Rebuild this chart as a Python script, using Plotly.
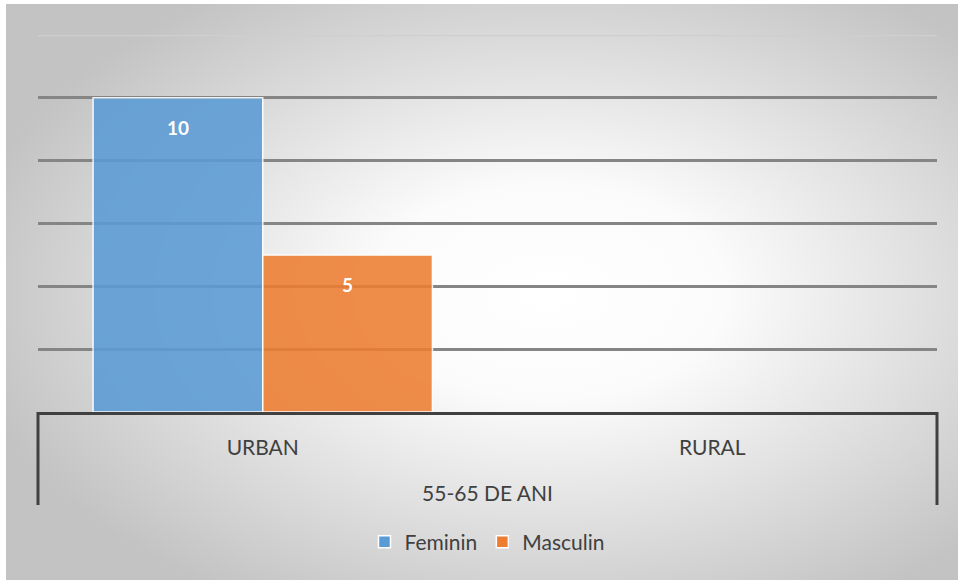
import base64
import plotly.graph_objects as go

# ---- data ----
group_label = "55-65 DE ANI"
categories = ["URBAN", "RURAL"]
feminin = [10, None]
masculin = [5, None]
series_names = ["Feminin", "Masculin"]
y_ticks = [0, 2, 4, 6, 8, 10, 12]

W, H = 958, 580
L, R, T, B = 38, 21, 35, 168
pw, ph = W - L - R, H - T - B

font_family = "Lato, 'Open Sans', sans-serif"
text_color = "#404040"
axis_color = "#404040"

label_tpl = "&nbsp;<br><span style='font-size:19px'>%{y}</span>"

fig = go.Figure()
for name, vals, color in [(series_names[0], feminin, "#5B9BD5"),
                          (series_names[1], masculin, "#ED7D31")]:
    fig.add_trace(go.Bar(
        name=name, x=categories, y=vals,
        marker=dict(color=color, opacity=0.88, line=dict(color="white", width=1.5)),
        texttemplate=label_tpl, textposition="inside", insidetextanchor="end",
        textfont=dict(color="white", size=15, family=font_family, weight="bold"),
        hoverinfo="skip",
    ))

# radial gradient background (chart area style)
svg = f'''<svg xmlns="http://www.w3.org/2000/svg" width="{W-6}" height="{H-4}" viewBox="0 0 {W-6} {H-4}" preserveAspectRatio="none">
<defs><radialGradient id="g" cx="0.57" cy="0.5" r="0.62" fx="0.57" fy="0.5">
<stop offset="0" stop-color="#ffffff"/><stop offset="0.3" stop-color="#fbfbfb"/>
<stop offset="1" stop-color="#c3c3c3"/></radialGradient></defs>
<rect width="100%" height="100%" fill="url(#g)"/></svg>'''
src = "data:image/svg+xml;base64," + base64.b64encode(svg.encode()).decode()

fig.add_layout_image(dict(
    source=src, xref="paper", yref="paper",
    x=(6 - L) / pw, y=1 + (T - 4) / ph,
    sizex=(W - 6) / pw, sizey=(H - 4) / ph,
    xanchor="left", yanchor="top", sizing="stretch", layer="below",
))

# top gridline (lighter)
fig.add_shape(type="line", xref="x domain", yref="y", x0=0, x1=1,
              y0=y_ticks[-1], y1=y_ticks[-1],
              line=dict(color="#cfcfcf", width=2.5), layer="below")

# multi-level category box sides
depth = 93 / ph
for xs in (0, 1):
    fig.add_shape(type="line", xref="paper", yref="paper", x0=xs, x1=xs,
                  y0=0, y1=-depth, line=dict(color=axis_color, width=3), layer="above")

fig.update_layout(
    width=W, height=H,
    margin=dict(l=L, r=R, t=T, b=B, pad=0),
    paper_bgcolor="white", plot_bgcolor="rgba(0,0,0,0)",
    barmode="group", bargap=0.245, bargroupgap=0.0,
    font=dict(family=font_family, size=21, color=text_color),
    showlegend=True,
    legend=dict(orientation="h", x=0.5, xanchor="center", y=-0.345, yanchor="middle",
                font=dict(size=21, color=text_color), bgcolor="rgba(0,0,0,0)",
                traceorder="normal"),
)
fig.update_yaxes(range=[0, y_ticks[-1]], tickvals=y_ticks[:-1], showticklabels=False,
                 showgrid=True, gridcolor="#858585", gridwidth=2.5, zeroline=False,
                 showline=False, ticks="")
fig.update_xaxes(type="category", showline=True, linecolor=axis_color, linewidth=3,
                 ticks="outside", ticklen=15, tickcolor="rgba(0,0,0,0)",
                 tickfont=dict(size=21, color=text_color), showgrid=False,
                 title=dict(text=group_label, font=dict(size=21, color=text_color), standoff=29))

fig.write_html("out.html", config={"displayModeBar": False},
               post_script="document.body.style.margin='0';")
